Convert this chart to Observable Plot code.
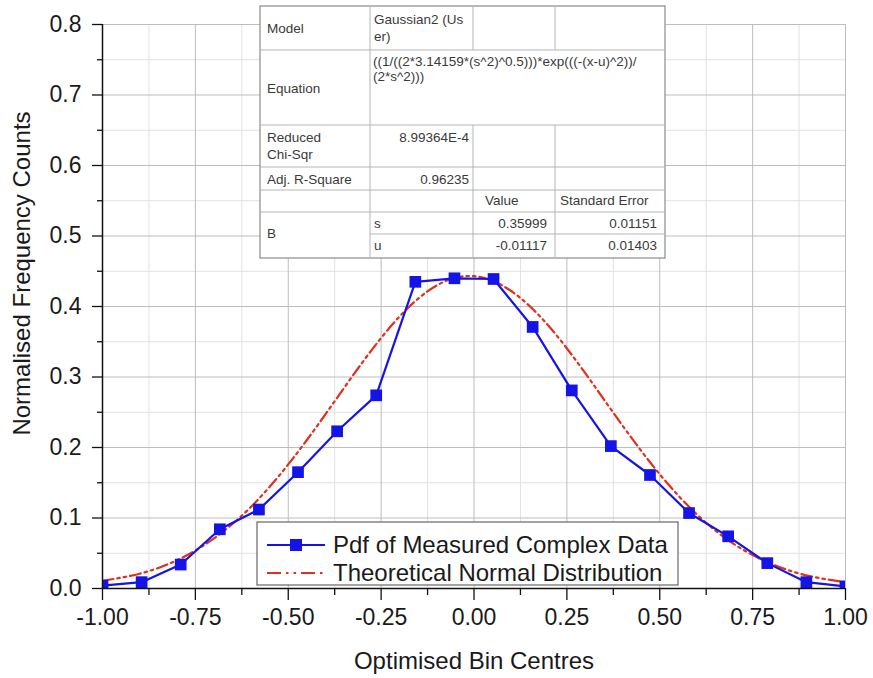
<!DOCTYPE html>
<html>
<head>
<meta charset="utf-8">
<script src="https://cdn.jsdelivr.net/npm/d3@7"></script>
<script src="https://cdn.jsdelivr.net/npm/@observablehq/plot@0.6"></script>
<style>
  html, body { margin: 0; padding: 0; background: #fff; }
  #wrap { position: relative; width: 873px; height: 678px; font-family: "Liberation Sans", Arial, sans-serif; }
  #wrap > svg.overlay { position: absolute; left: 0; top: 0; pointer-events: none; }
</style>
</head>
<body>
<div id="wrap"></div>
<script>
// ---- Data ----
const binCentres = [-1, -0.8947, -0.7895, -0.6842, -0.5789, -0.4737, -0.3684, -0.2632, -0.1579, -0.0526,
                    0.0526, 0.1579, 0.2632, 0.3684, 0.4737, 0.5789, 0.6842, 0.7895, 0.8947, 1];
const measuredPdf = [0.004, 0.009, 0.034, 0.084, 0.112, 0.165, 0.223, 0.274, 0.435, 0.440,
                     0.439, 0.371, 0.281, 0.202, 0.161, 0.107, 0.074, 0.036, 0.009, 0.003];
const theoryX = [-1, -0.9, -0.8, -0.7, -0.6, -0.5, -0.4, -0.3, -0.2, -0.1, 0,
                 0.1, 0.2, 0.3, 0.4, 0.5, 0.6, 0.7, 0.8, 0.9, 1];
const theoryY = [0.011, 0.021, 0.040, 0.071, 0.116, 0.176, 0.247, 0.321, 0.386, 0.430, 0.443,
                 0.422, 0.373, 0.305, 0.231, 0.162, 0.105, 0.063, 0.035, 0.018, 0.009];
const xTicks = [-1, -0.75, -0.5, -0.25, 0, 0.25, 0.5, 0.75, 1];
const xMinorTicks = [-0.875, -0.625, -0.375, -0.125, 0.125, 0.375, 0.625, 0.875];
const yTicks = [0, 0.1, 0.2, 0.3, 0.4, 0.5, 0.6, 0.7, 0.8];
const yMinorTicks = [0.05, 0.15, 0.25, 0.35, 0.45, 0.55, 0.65, 0.75];
const seriesNames = ["Pdf of Measured Complex Data", "Theoretical Normal Distribution"];
const xTitle = "Optimised Bin Centres";
const yTitle = "Normalised Frequency Counts";
const tableModel = ["Gaussian2 (Us", "er)"];
const tableEquation = ["((1/((2*3.14159*(s^2)^0.5)))*exp(((-(x-u)^2))/", "(2*s^2)))"];
const tableChiSqr = "8.99364E-4";
const tableAdjR2 = "0.96235";
const tableParams = ["s", "u"];
const tableValues = ["0.35999", "-0.01117"];
const tableErrors = ["0.01151", "0.01403"];

const measured = binCentres.map((x, i) => ({x, y: measuredPdf[i]}));
const theory = theoryX.map((x, i) => ({x, y: theoryY[i]}));

const BLUE = "#1414e6";
const RED = "#e0301e";
const FONT = "'Liberation Sans', Arial, sans-serif";

const chart = Plot.plot({
  width: 873,
  height: 678,
  marginLeft: 102,
  marginRight: 28,
  marginTop: 24,
  marginBottom: 90,
  style: {fontFamily: FONT, fontSize: "23px", color: "#1a1a1a", background: "#fff"},
  x: {domain: [-1, 1]},
  y: {domain: [0, 0.8]},
  marks: [
    Plot.gridX(xMinorTicks, {stroke: "#e2e2e2", strokeOpacity: 1}),
    Plot.gridY(yMinorTicks, {stroke: "#e2e2e2", strokeOpacity: 1}),
    Plot.gridX(xTicks, {stroke: "#bdbdbd", strokeOpacity: 1}),
    Plot.gridY(yTicks, {stroke: "#bdbdbd", strokeOpacity: 1}),
    Plot.line(theory, {x: "x", y: "y", stroke: RED, strokeWidth: 2.2, curve: "natural",
      strokeDasharray: "11,4,2.5,4,2.5,4", clip: true}),
    Plot.line(measured, {x: "x", y: "y", stroke: BLUE, strokeWidth: 2.2, clip: true}),
    Plot.dot(measured, {x: "x", y: "y", symbol: "square", r: 6.6, fill: BLUE, stroke: "none", clip: true}),
    Plot.ruleX([-1], {stroke: "#111", strokeWidth: 1.5}),
    Plot.ruleY([0], {stroke: "#111", strokeWidth: 1.5}),
    Plot.axisX(xTicks, {anchor: "bottom", tickSize: 12, tickPadding: 8, tickFormat: d => d.toFixed(2),
      label: null, fontSize: 23, stroke: "#111", strokeWidth: 1.3}),
    Plot.axisX(xMinorTicks, {anchor: "bottom", tickSize: 7, tickFormat: () => "", label: null,
      stroke: "#111", strokeWidth: 1.3}),
    Plot.axisY(yTicks, {anchor: "left", tickSize: 10, tickPadding: 11, tickFormat: d => d.toFixed(1),
      label: null, fontSize: 23, stroke: "#111", strokeWidth: 1.3}),
    Plot.axisY(yMinorTicks, {anchor: "left", tickSize: 5, tickFormat: () => "", label: null,
      stroke: "#111", strokeWidth: 1.3}),
    Plot.text([xTitle], {frameAnchor: "bottom", dy: 80, fontSize: 24, lineAnchor: "bottom", fill: "#1a1a1a"}),
    Plot.text([yTitle], {frameAnchor: "left", textAnchor: "middle", lineAnchor: "middle",
      dx: -80, dy: -33, rotate: -90, fontSize: 24, fill: "#1a1a1a"})
  ]
});
const wrap = document.getElementById("wrap");
wrap.appendChild(chart);

// ---- Overlays: fit-result table and legend ----
const ov = d3.select(wrap).append("svg").attr("class", "overlay")
  .attr("width", 873).attr("height", 678).style("font-family", FONT);

// Table
const L = 260, C1 = 370, C2 = 473, C3 = 555, R = 665;
const T = 6, r1 = 50, r2 = 125, r3 = 167, r4 = 190, r5 = 212, r6 = 234, B = 258;
const tg = ov.append("g");
tg.append("rect").attr("x", L).attr("y", T).attr("width", R - L).attr("height", B - T)
  .attr("fill", "#fff").attr("stroke", "#8a8a8a").attr("stroke-width", 1.2);
const ln = (x1, y1, x2, y2) => tg.append("line").attr("x1", x1).attr("y1", y1).attr("x2", x2).attr("y2", y2)
  .attr("stroke", "#b5b5b5").attr("stroke-width", 1);
[r1, r2, r3, r4, r5].forEach(y => ln(L, y, R, y));
ln(C1, r6, R, r6);
ln(C1, T, C1, B);
[C2, C3].forEach(x => { ln(x, T, x, r1); ln(x, r2, x, B); });
const tx = (s, x, y, anchor = "start") => tg.append("text").attr("x", x).attr("y", y)
  .attr("text-anchor", anchor).attr("font-size", 13.5).attr("fill", "#3a3a3a").text(s);
tx("Model", L + 7, 33);
tx(tableModel[0], C1 + 4, 24);
tx(tableModel[1], C1 + 4, 41);
tx("Equation", L + 7, 93);
tx(tableEquation[0], C1 + 3, 66);
tx(tableEquation[1], C1 + 3, 81);
tx("Reduced", L + 7, 142);
tx("Chi-Sqr", L + 7, 159);
tx(tableChiSqr, C2 - 4, 142, "end");
tx("Adj. R-Square", L + 7, 184);
tx(tableAdjR2, C2 - 4, 184, "end");
tx("Value", C2 + 12, 205);
tx("Standard Error", C3 + 5, 205);
tx("B", L + 7, 238);
tableParams.forEach((p, i) => {
  const y = i === 0 ? 228 : 250;
  tx(p, C1 + 4, y);
  tx(tableValues[i], C3 - 8, y, "end");
  tx(tableErrors[i], R - 8, y, "end");
});

// Legend
const lg = ov.append("g");
lg.append("rect").attr("x", 257).attr("y", 522).attr("width", 421).attr("height", 63)
  .attr("fill", "#fff").attr("stroke", "#666").attr("stroke-width", 1.2);
lg.append("line").attr("x1", 267).attr("x2", 325).attr("y1", 545).attr("y2", 545)
  .attr("stroke", BLUE).attr("stroke-width", 2.2);
lg.append("rect").attr("x", 290).attr("y", 539).attr("width", 12).attr("height", 12).attr("fill", BLUE);
lg.append("line").attr("x1", 267).attr("x2", 325).attr("y1", 573).attr("y2", 573)
  .attr("stroke", RED).attr("stroke-width", 2.2).attr("stroke-dasharray", "14,5,2.5,5,2.5,5");
seriesNames.forEach((s, i) => {
  lg.append("text").attr("x", 333).attr("y", i === 0 ? 553 : 581).attr("font-size", 24)
    .attr("fill", "#1a1a1a").text(s);
});
</script>
</body>
</html>
